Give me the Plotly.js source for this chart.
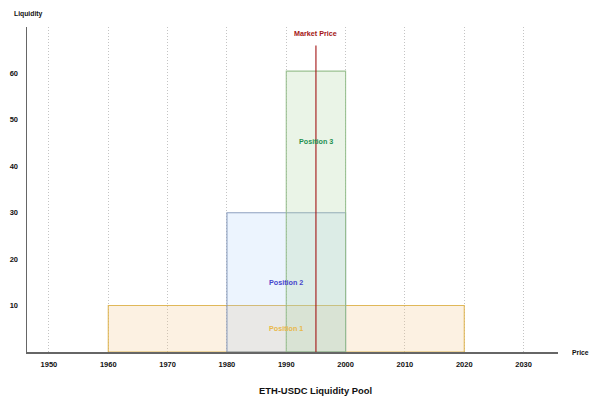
<!DOCTYPE html>
<html>
<head>
<meta charset="utf-8">
<script src="https://cdn.plot.ly/plotly-3.0.1.min.js"></script>
<style>
  html, body { margin: 0; padding: 0; background: #fff; }
  #chart { width: 600px; height: 407px; }
</style>
</head>
<body>
<div id="chart"></div>
<script>
// Liquidity positions of the ETH-USDC pool: price range and liquidity depth
const positionNames = ['Position 1', 'Position 2', 'Position 3'];
const priceLower = [1960, 1980, 1990];
const priceUpper = [2020, 2000, 2000];
const liquidity = [10, 30, 60.5];
const labelHeight = [5, 15, 45.4];

const marketPrice = 1995;
const marketLineTop = 66;

const xTicks = [1950, 1960, 1970, 1980, 1990, 2000, 2010, 2020, 2030];
const yTicks = [10, 20, 30, 40, 50, 60];

const fills = ['rgba(245,200,140,0.25)', 'rgba(160,200,250,0.2)', 'rgba(170,210,160,0.25)'];
const borders = ['rgba(222,180,80,0.95)', 'rgba(130,150,185,0.9)', 'rgba(150,190,140,0.95)'];
const textColors = ['#e8b84a', '#4646cc', '#1f9050'];

const font = 'Liberation Sans, Arial, Helvetica, sans-serif';

const traces = positionNames.map((name, i) => ({
  type: 'bar',
  name: name,
  x: [(priceLower[i] + priceUpper[i]) / 2],
  y: [liquidity[i]],
  width: [priceUpper[i] - priceLower[i]],
  marker: { color: fills[i], line: { color: borders[i], width: 1.1 } },
  hoverinfo: 'skip'
}));

traces.push({
  type: 'scatter',
  mode: 'lines',
  x: [marketPrice, marketPrice],
  y: [0, marketLineTop],
  line: { color: '#a31515', width: 1.1 },
  hoverinfo: 'skip'
});

const annotations = positionNames.map((name, i) => ({
  x: (priceLower[i] + priceUpper[i]) / 2,
  y: labelHeight[i],
  xref: 'x', yref: 'y',
  text: '<b>' + name + '</b>',
  showarrow: false,
  font: { family: font, size: 7.2, color: textColors[i] }
}));

annotations.push(
  {
    x: marketPrice, y: marketLineTop, xref: 'x', yref: 'y',
    text: '<b>Market Price</b>', showarrow: false, yanchor: 'bottom', yshift: 6,
    font: { family: font, size: 7.2, color: '#a31515' }
  },
  {
    x: 12, y: 14, xref: 'paper', yref: 'paper', xanchor: 'left', yanchor: 'middle',
    text: '<b>Liquidity</b>', showarrow: false,
    font: { family: font, size: 6.8, color: '#111' }
  },
  {
    x: 580, y: 352, xref: 'paper', yref: 'paper', xanchor: 'center', yanchor: 'middle',
    text: '<b>Price</b>', showarrow: false,
    font: { family: font, size: 6.8, color: '#111' }
  },
  {
    x: 315, y: 390, xref: 'paper', yref: 'paper', xanchor: 'center', yanchor: 'middle',
    text: '<b>ETH-USDC Liquidity Pool</b>', showarrow: false,
    font: { family: font, size: 9.4, color: '#111' }
  }
);

// convert pixel-positioned annotations to paper fractions
const M = { l: 27, r: 42, t: 27, b: 55 };
const W = 600, H = 407;
const pw = W - M.l - M.r, ph = H - M.t - M.b;
annotations.forEach(a => {
  if (a.xref === 'paper') {
    a.x = (a.x - M.l) / pw;
    a.y = 1 - (a.y - M.t) / ph;
  }
});

const layout = {
  width: W, height: H,
  margin: M,
  paper_bgcolor: '#fff', plot_bgcolor: '#fff',
  barmode: 'overlay',
  showlegend: false,
  font: { family: font, size: 7.5, color: '#111' },
  xaxis: {
    range: [1946.3, 2035.8],
    tickvals: xTicks,
    ticktext: xTicks.map(v => '<b>' + v + '</b>'),
    showgrid: true, gridcolor: '#c4c4c4', griddash: '1px,2px', gridwidth: 1,
    showline: true, linecolor: '#666', linewidth: 1.5,
    zeroline: false, ticks: '', ticklabelstandoff: 4,
    fixedrange: true
  },
  yaxis: {
    range: [0, 70],
    tickvals: yTicks,
    ticktext: yTicks.map(v => '<b>' + v + '</b>'),
    showgrid: false,
    showline: true, linecolor: '#666', linewidth: 1.5,
    zeroline: false, ticks: '', ticklabelstandoff: 6,
    fixedrange: true
  },
  annotations: annotations
};

Plotly.newPlot('chart', traces, layout, { displayModeBar: false, staticPlot: true });
</script>
</body>
</html>
